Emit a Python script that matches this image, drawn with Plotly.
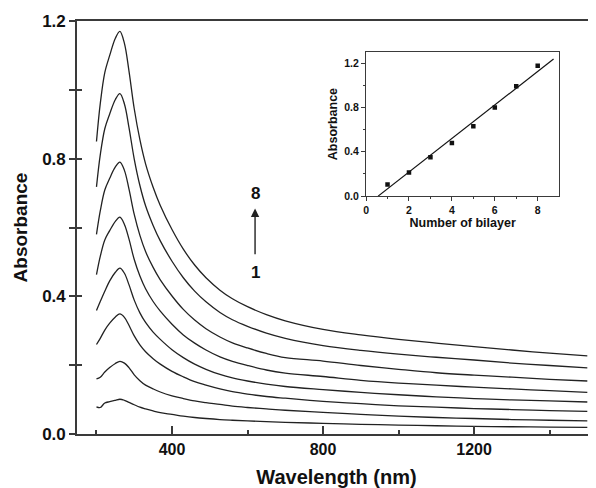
import plotly.graph_objects as go

# ---- data ----
wavelength = [200, 210, 222, 235, 250, 262, 274, 286, 300, 315, 330, 350, 369, 400, 430,
              460, 490, 527, 560, 600, 650, 700, 800, 900, 1000, 1100, 1200, 1300, 1400, 1500]

abs_1 = [0.079, 0.077, 0.090, 0.094, 0.098, 0.101, 0.098, 0.092, 0.085, 0.078, 0.073, 0.067, 0.062, 0.057, 0.052,
         0.048, 0.045, 0.042, 0.040, 0.038, 0.036, 0.034, 0.031, 0.028, 0.026, 0.024, 0.022, 0.021, 0.020, 0.019]
abs_2 = [0.160, 0.165, 0.180, 0.193, 0.205, 0.211, 0.206, 0.193, 0.172, 0.155, 0.142, 0.131, 0.122, 0.111, 0.103,
         0.096, 0.091, 0.086, 0.081, 0.077, 0.073, 0.069, 0.063, 0.057, 0.052, 0.048, 0.045, 0.042, 0.040, 0.038]
abs_3 = [0.260, 0.278, 0.302, 0.322, 0.340, 0.349, 0.339, 0.316, 0.285, 0.259, 0.239, 0.219, 0.203, 0.182, 0.166,
         0.152, 0.142, 0.131, 0.123, 0.116, 0.109, 0.104, 0.095, 0.088, 0.082, 0.078, 0.074, 0.071, 0.068, 0.066]
abs_4 = [0.359, 0.385, 0.415, 0.445, 0.470, 0.482, 0.467, 0.434, 0.389, 0.352, 0.324, 0.296, 0.275, 0.245, 0.222,
         0.203, 0.188, 0.173, 0.163, 0.154, 0.145, 0.138, 0.129, 0.121, 0.114, 0.108, 0.103, 0.099, 0.096, 0.093]
abs_5 = [0.463, 0.516, 0.564, 0.591, 0.618, 0.630, 0.609, 0.567, 0.507, 0.459, 0.422, 0.385, 0.357, 0.319, 0.288,
         0.264, 0.244, 0.224, 0.211, 0.199, 0.186, 0.177, 0.167, 0.156, 0.148, 0.142, 0.136, 0.131, 0.126, 0.121]
abs_6 = [0.580, 0.648, 0.709, 0.743, 0.776, 0.790, 0.766, 0.712, 0.638, 0.577, 0.530, 0.484, 0.448, 0.401, 0.362,
         0.331, 0.306, 0.282, 0.265, 0.250, 0.234, 0.222, 0.212, 0.199, 0.188, 0.178, 0.171, 0.165, 0.159, 0.154]
abs_7 = [0.718, 0.811, 0.887, 0.930, 0.972, 0.989, 0.959, 0.891, 0.799, 0.722, 0.663, 0.606, 0.561, 0.502, 0.454,
         0.415, 0.384, 0.353, 0.332, 0.313, 0.293, 0.278, 0.257, 0.243, 0.232, 0.223, 0.215, 0.206, 0.199, 0.192]
abs_8 = [0.850, 0.960, 1.050, 1.100, 1.150, 1.170, 1.135, 1.055, 0.945, 0.855, 0.785, 0.717, 0.664, 0.594, 0.537,
         0.491, 0.454, 0.418, 0.393, 0.370, 0.347, 0.329, 0.304, 0.288, 0.275, 0.264, 0.254, 0.244, 0.235, 0.227]
spectra = [abs_1, abs_2, abs_3, abs_4, abs_5, abs_6, abs_7, abs_8]

bilayers = [1, 2, 3, 4, 5, 6, 7, 8]
peak_abs = [0.104, 0.213, 0.350, 0.480, 0.630, 0.800, 0.990, 1.175]
fit_x = [0.56, 8.74]
fit_y = [0.0, 1.236]

main_ticks = [400, 800, 1200]
main_minor = [200, 600, 1000, 1400]
abs_ticks = [0.0, 0.4, 0.8, 1.2]
abs_ticktext = ["0.0", "0.4", "0.8", "1.2"]
abs_minor = [0.2, 0.6, 1.0]
inset_ticks = [0, 2, 4, 6, 8]
inset_minor = [1, 3, 5, 7]

FONT = "Liberation Sans, Arial, sans-serif"
INK = "#111111"
LINE = "#3a3a3a"

fig = go.Figure()
for ys in spectra:
    fig.add_trace(go.Scatter(x=wavelength, y=ys, mode="lines",
                             line=dict(color="#222222", width=1.3, shape="spline", smoothing=1.0),
                             showlegend=False, hoverinfo="skip"))
# invisible trace for the inner-tick overlay axis
fig.add_trace(go.Scatter(x=[wavelength[0]], y=[0], mode="markers", marker=dict(opacity=0),
                         yaxis="y3", showlegend=False, hoverinfo="skip"))

# inset
fig.add_trace(go.Scatter(x=fit_x, y=fit_y, mode="lines", line=dict(color="#111111", width=1.2),
                         xaxis="x2", yaxis="y2", showlegend=False, hoverinfo="skip"))
fig.add_trace(go.Scatter(x=bilayers, y=peak_abs, mode="markers",
                         marker=dict(symbol="square", size=4.5, color="#111111"),
                         xaxis="x2", yaxis="y2", showlegend=False, hoverinfo="skip"))

bold = dict(family=FONT, color=INK)

# page body has an 8px default margin: figure is sized/offset to compensate
fig.update_layout(
    width=588, height=480,
    margin=dict(l=69, r=0, t=13, b=51),
    paper_bgcolor="white", plot_bgcolor="white",
    xaxis=dict(range=[148.4, 1523], tickvals=main_ticks, ticktext=["<b>%d</b>" % v for v in main_ticks],
               ticks="inside", ticklen=8, tickwidth=1.5, tickcolor=LINE,
               minor=dict(tickvals=main_minor, ticks="inside", ticklen=4, tickwidth=1.5, tickcolor=LINE),
               showline=True, linecolor=LINE, linewidth=1.6, mirror=True,
               showgrid=False, zeroline=False,
               tickfont=dict(size=16, **bold),
               title=dict(text="<b>Wavelength (nm)</b>", font=dict(size=20, **bold), standoff=16)),
    yaxis=dict(range=[0, 1.2], tickvals=abs_ticks, ticktext=["<b>%s</b>" % t for t in abs_ticktext],
               ticks="outside", ticklen=6, tickwidth=1.5, tickcolor=LINE,
               minor=dict(tickvals=abs_minor, ticks="outside", ticklen=6, tickwidth=1.5, tickcolor=LINE),
               showline=True, linecolor=LINE, linewidth=1.6,
               showgrid=False, zeroline=False,
               tickfont=dict(size=17, **bold),
               title=dict(text="<b>Absorbance</b>", font=dict(size=19, **bold), standoff=10)),
    yaxis3=dict(range=[0, 1.2], overlaying="y", side="left", anchor="x",
                tickvals=abs_ticks + abs_minor, ticks="inside", ticklen=5, tickwidth=1.5,
                tickcolor=LINE, showticklabels=False, showline=False, showgrid=False, zeroline=False),
    xaxis2=dict(domain=[0.557, 0.929], anchor="y2", range=[0, 9],
                tickvals=inset_ticks, ticktext=["<b>%d</b>" % v for v in inset_ticks],
                ticks="outside", ticklen=4, tickwidth=1.2, tickcolor=LINE,
                minor=dict(tickvals=inset_minor, ticks="outside", ticklen=2, tickwidth=1.2, tickcolor=LINE),
                showline=True, linecolor=LINE, linewidth=1.4, mirror=True,
                showgrid=False, zeroline=False,
                tickfont=dict(size=10.5, **bold),
                title=dict(text="<b>Number of bilayer</b>", font=dict(size=12.5, **bold), standoff=2)),
    yaxis2=dict(domain=[0.576, 0.925], anchor="x2", range=[0, 1.3],
                tickvals=abs_ticks, ticktext=["<b>%s</b>" % t for t in abs_ticktext],
                ticks="outside", ticklen=4, tickwidth=1.2, tickcolor=LINE,
                minor=dict(tickvals=abs_minor, ticks="outside", ticklen=2, tickwidth=1.2, tickcolor=LINE),
                showline=True, linecolor=LINE, linewidth=1.4, mirror=True,
                showgrid=False, zeroline=False,
                tickfont=dict(size=10.5, **bold),
                title=dict(text="<b>Absorbance</b>", font=dict(size=12.5, **bold), standoff=3)),
    annotations=[
        dict(x=620, y=0.698, xref="x", yref="y", text="<b>8</b>", showarrow=False,
             font=dict(size=17, **bold)),
        dict(x=620, y=0.468, xref="x", yref="y", text="<b>1</b>", showarrow=False,
             font=dict(size=17, **bold)),
        dict(x=620, y=0.655, ax=620, ay=0.518, xref="x", yref="y", axref="x", ayref="y",
             text="", showarrow=True, arrowhead=2, arrowsize=1.2, arrowwidth=1.4,
             arrowcolor="#222222"),
    ],
)

fig.write_html("out.html")
